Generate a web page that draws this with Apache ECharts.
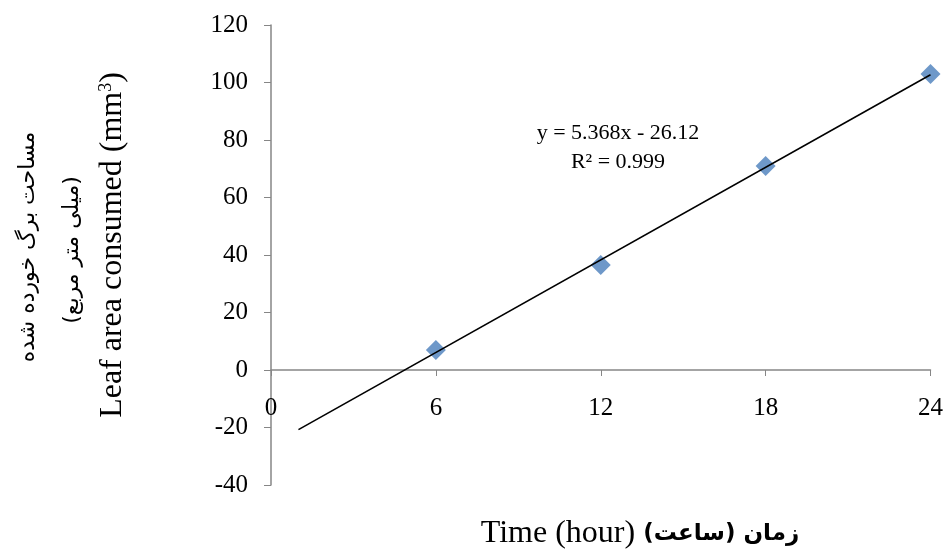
<!DOCTYPE html>
<html>
<head>
<meta charset="UTF-8">
<title>Leaf area consumed</title>
<script type="text/javascript" src="https://cdn.jsdelivr.net/npm/echarts@6/dist/echarts.min.js"></script>
<style>
  body{margin:0;background:#fff}
</style>
</head>
<body>
<div id="main" style="width:946px;height:553px"></div>
<script type="text/javascript">
// measured values
var hours = [6, 12, 18, 24];
var consumed = [7, 36.5, 71, 103];
var xTicks = [0, 6, 12, 18, 24];
var yTicks = [-40, 0, 20, 40, 60, 80, 100, 120];
// linear trendline (from the fitted equation)
var slope = 5.368;
var intercept = -26.12;
var trendFrom = 1, trendTo = 24;

var serif = '"Liberation Serif", "Times New Roman", serif';
var arabic = '"DejaVu Sans", sans-serif';
var axisGray = '#868686';

var myEcharts = echarts.init(document.getElementById('main'));

var pts = hours.map(function (h, i) { return [h, consumed[i]]; });
var trend = [trendFrom, trendTo].map(function (x) { return [x, slope * x + intercept]; });

var option = {
    animation: false,
    grid: { left: 271, right: 10, top: 25, bottom: 68 },
    xAxis: {
        type: 'value',
        min: xTicks[0],
        max: xTicks[xTicks.length - 1],
        interval: 6,
        axisLine: { onZero: true, lineStyle: { color: axisGray, width: 1.5 } },
        axisTick: { length: 6, lineStyle: { color: axisGray } },
        axisLabel: { margin: -89, color: '#000', fontFamily: serif, fontSize: 25 },
        splitLine: { show: false }
    },
    yAxis: {
        type: 'value',
        min: yTicks[0],
        max: yTicks[yTicks.length - 1],
        interval: 20,
        axisLine: { show: true, onZero: false, lineStyle: { color: axisGray, width: 1.5 } },
        axisTick: { show: true, length: 7, lineStyle: { color: axisGray } },
        axisLabel: { margin: 23, color: '#000', fontFamily: serif, fontSize: 25 },
        splitLine: { show: false }
    },
    series: [
        {
            name: 'trend',
            type: 'line',
            data: trend,
            symbol: 'none',
            lineStyle: { color: '#000', width: 1.6 },
            z: 3
        },
        {
            name: 'Leaf area',
            type: 'scatter',
            data: pts,
            symbol: 'diamond',
            symbolSize: 20,
            itemStyle: { color: '#4a7ebb' },
            z: 2
        }
    ],
    graphic: [
        {
            type: 'text',
            x: 618, y: 148,
            style: {
                text: 'y = 5.368x - 26.12\nR² = 0.999',
                fill: '#000',
                font: '22px ' + serif,
                align: 'center',
                verticalAlign: 'middle',
                lineHeight: 29
            }
        },
        {
            type: 'text',
            x: 113, y: 245,
            rotation: Math.PI / 2,
            style: {
                text: '{a|Leaf area consumed (mm}{s|3}{a|)}',
                align: 'center',
                verticalAlign: 'middle',
                rich: {
                    a: { fontFamily: serif, fontSize: 32, fill: '#000' },
                    s: { fontFamily: serif, fontSize: 18, fill: '#000', verticalAlign: 'top', padding: [0, 0, 14, 0] }
                }
            }
        },
        {
            type: 'text',
            x: 28, y: 247,
            rotation: Math.PI / 2,
            style: {
                text: 'مساحت برگ خورده شده',
                align: 'center',
                verticalAlign: 'middle',
                font: '22px ' + arabic,
                fill: '#000'
            }
        },
        {
            type: 'text',
            x: 72, y: 250,
            rotation: Math.PI / 2,
            style: {
                text: '(میلی متر مربع)',
                align: 'center',
                verticalAlign: 'middle',
                font: '22px ' + arabic,
                fill: '#000'
            }
        },
        {
            type: 'text',
            x: 640, y: 534,
            style: {
                text: '{a|Time (hour) }{b|زمان (ساعت)}',
                align: 'center',
                verticalAlign: 'middle',
                rich: {
                    a: { fontFamily: serif, fontSize: 32, fill: '#000' },
                    b: { fontFamily: arabic, fontSize: 23, fontWeight: 'bold', fill: '#000' }
                }
            }
        }
    ]
};

myEcharts.setOption(option);
</script>
</body>
</html>
